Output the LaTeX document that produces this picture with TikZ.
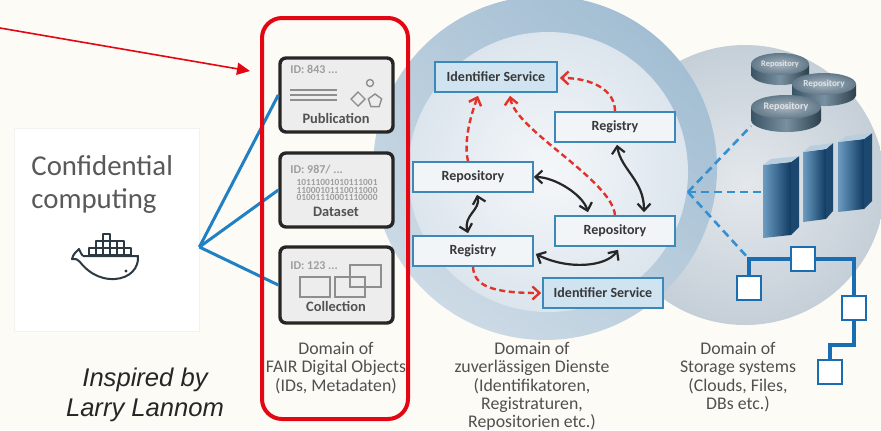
\documentclass[tikz,border=0pt]{standalone}
\usepackage{fontspec}
\setmainfont{Carlito}
\newfontfamily\arialfont{Liberation Sans}
\usetikzlibrary{arrows.meta,positioning,calc,shapes.geometric}

\definecolor{bgcream}{HTML}{FDFBF6}
\definecolor{fdored}{HTML}{E30613}
\definecolor{linkblue}{HTML}{1F80C4}
\definecolor{svcblue}{HTML}{3C88B8}
\definecolor{idfill}{HTML}{CFE3F1}
\definecolor{svcfill}{HTML}{F1F5F8}
\definecolor{arrred}{HTML}{E2332B}
\definecolor{txtgray}{HTML}{505050}
\definecolor{icongray}{HTML}{8E8E8E}
\definecolor{treeblue}{HTML}{1A6DB0}
\definecolor{dashblue}{HTML}{3590D2}
\definecolor{whaleink}{HTML}{2B3A42}
\definecolor{midtop}{HTML}{A3BED3}
\definecolor{midbot}{HTML}{CCDAE5}
\definecolor{innerc}{HTML}{DCE5ED}
\definecolor{stlight}{HTML}{E4E8EC}
\definecolor{stdark}{HTML}{C5CFD8}
\definecolor{diskside}{HTML}{3B5465}
\definecolor{diskhi}{HTML}{7890A0}
\definecolor{disktop}{HTML}{62798A}
\definecolor{towlight}{HTML}{6C9CC2}
\definecolor{towdark}{HTML}{0F3A62}
\definecolor{towside}{HTML}{1C4870}
\definecolor{towtop}{HTML}{B8CEDF}

\tikzset{
  fdobox/.style={draw=black!85,line width=1.7pt,rounded corners=3pt,fill=black!7,inner sep=0pt},
  svc/.style={draw=svcblue,line width=0.8pt,fill=svcfill,minimum width=60pt,minimum height=15pt,
    inner sep=0pt,font=\fontsize{7}{8}\selectfont\bfseries,text=black!78},
  idsvc/.style={svc,fill=idfill},
  dbl/.style={{Straight Barb[length=3.5pt,width=6.5pt]}-{Straight Barb[length=3.5pt,width=6.5pt]},
    line width=1.1pt,draw=black!85},
  rdash/.style={-{Straight Barb[length=3.5pt,width=6.5pt]},line width=1.2pt,draw=arrred,
    dash pattern=on 3pt off 1.8pt},
  fdolink/.style={draw=linkblue,line width=1.5pt},
  stlink/.style={draw=dashblue,line width=1.3pt,dash pattern=on 4pt off 2.5pt},
  domlbl/.style={align=center,text=txtgray,inner sep=0pt,font=\fontsize{8.9}{9.15}\selectfont},
  idtxt/.style={anchor=west,text=black!38,inner sep=0pt,font=\fontsize{6}{7}\selectfont\bfseries},
  bits/.style={align=center,text=black!38,inner sep=0pt,font=\fontsize{4.7}{3.55}\selectfont\bfseries},
  objlbl/.style={text=black!68,inner sep=0pt,font=\fontsize{7.2}{8}\selectfont\bfseries},
  icon/.style={draw=icongray,line width=0.7pt},
  treeln/.style={draw=treeblue,line width=2.2pt},
  treenode/.style={draw=treeblue,line width=1.4pt,fill=white,minimum size=12pt,inner sep=0pt},
}

% x, y, x radius, y radius, depth, label size, name
\newcommand{\repodisk}[7]{%
  \shade[left color=diskside,right color=diskside!75!black,middle color=diskhi]
    (#1-#3,#2) rectangle (#1+#3,#2+#5);
  \shade[left color=diskside,right color=diskside!75!black,middle color=diskhi]
    (#1,#2+#5) ellipse [x radius=#3,y radius=#4];
  \shade[inner color=disktop!55!white,outer color=disktop] (#1,#2) ellipse [x radius=#3,y radius=#4];
  \node[text=white!80!disktop,inner sep=0pt,font=\fontsize{#6}{#6}\selectfont\bfseries] (#7) at (#1,#2) {Repository};
}
% x, y, front width, height, side width
\newcommand{\rack}[5]{%
  \shade[left color=towlight,right color=towdark]
    (#1,#2) -- (#1+#3,#2-3) -- (#1+#3,#2+#4-3) -- (#1,#2+#4) -- cycle;
  \fill[towside] (#1+#3,#2-3) -- (#1+#3+#5,#2-9) -- (#1+#3+#5,#2+#4-11) -- (#1+#3,#2+#4-3) -- cycle;
  \fill[towtop] (#1,#2) -- (#1+#3,#2-3) -- (#1+#3+#5,#2-9) -- (#1+#5,#2-6) -- cycle;
}

\begin{document}
\begin{tikzpicture}[x=0.5pt,y=-0.5pt]
  \useasboundingbox[fill=bgcream] (0,0) rectangle (881,430);

  % the three domains
  \shade[inner color=stlight,outer color=stdark] (745,185) circle [radius=140];
  \shade[top color=midtop,bottom color=midbot,shading angle=-40] (545,168) circle [radius=172];
  \shade[inner color=white!70!innerc,outer color=innerc] (548,172) circle [radius=140];

  % confidential computing
  \node[draw=black!5,fill=white,minimum width=92.5pt,minimum height=101.5pt,inner sep=0pt] (cc) at (106.5,229.5) {};
  \node[anchor=base west,inner sep=0pt,text=black!65,font=\fontsize{14.4}{16}\selectfont] (conf) at (31,175) {Confidential};
  \node[anchor=base west,inner sep=0pt,text=black!65,font=\fontsize{14.4}{16}\selectfont] (comp) at (31,208) {computing};
  \begin{scope}[whaleink,line width=1pt,line join=round]
    \draw (103,234) rectangle ++(7,7);
    \foreach \c in {1,...,4} \draw (89+7*\c,241) rectangle ++(7,7);
    \foreach \c in {0,...,5} \draw (89+7*\c,248) rectangle ++(7,7);
    \draw (83,256) -- (138,256) .. controls (139,268) and (130,278) .. (115,279)
      .. controls (98,280) and (86,270) .. (80,262) .. controls (77,259) and (74,258) .. (72,259)
      .. controls (73,254) and (77,251) .. (79,249) .. controls (80,252) and (82,255) .. (83,256);
    \fill (126,271) circle [radius=1.6];
  \end{scope}

  \node[inner sep=0pt,text=black!85,font=\arialfont\itshape\fontsize{12.8}{14}\selectfont] (insp) at (145,380) {Inspired by};
  \node[inner sep=0pt,text=black!85,font=\arialfont\itshape\fontsize{12.8}{14}\selectfont] (larry) at (145,410) {Larry Lannom};

  % FAIR digital objects
  \coordinate (hub) at ([yshift=-8.75pt]cc.east);
  \node[fdobox,minimum width=56.5pt,minimum height=37pt] (pub) at (336.5,95) {};
  \node[fdobox,minimum width=56.5pt,minimum height=37pt] (dat) at (336.5,190) {};
  \node[fdobox,minimum width=56.5pt,minimum height=38pt] (col) at (336.5,285) {};
  \draw[fdolink] (hub) -- (pub.west);
  \draw[fdolink] (hub) -- (dat.west);
  \draw[fdolink] (hub) -- (col.west);

  \node[idtxt] (pubid) at (290,69) {ID: 843 ...};
  \foreach \yy in {90,95,100} \draw[icon] (290,\yy) -- (337,\yy);
  \draw[icon] (370,83) circle [radius=3.5];
  \draw[icon] (358,92) -- (365,99) -- (358,106) -- (351,99) -- cycle;
  \node[icon,regular polygon,regular polygon sides=5,minimum size=7pt,inner sep=0pt] (pent) at (375,101) {};
  \node[objlbl] (publbl) at (336,118) {Publication};

  \node[idtxt] (datid) at (290,170) {ID: 987/ ...};
  \node[bits] (bitrows) at (337,190) {10111001010111001\\11000101110011000\\01001110001110000};
  \node[objlbl] (datlbl) at (336,212) {Dataset};

  \node[idtxt] (colid) at (290,266) {ID: 123 ...};
  \draw[icon] (300,277) rectangle (330,297);
  \draw[icon] (335,277) rectangle (365,297);
  \draw[icon] (350,265) rectangle (381,287);
  \node[objlbl] (collbl) at (336,306) {Collection};

  \draw[fdored,line width=2pt,rounded corners=10pt] (262,18) rectangle (408,419);
  \coordinate (tail) at (0,28);
  \coordinate (tip) at (250,71);
  \draw[fdored,line width=0.8pt,-{Triangle[length=6.5pt,width=6pt]}] (tail) -- (tip);

  % trusted services
  \node[idsvc,minimum width=61pt] (idT) at (496,77) {Identifier Service};
  \node[svc] (regR) at (615,127) {Registry};
  \node[svc] (repL) at (473,177) {Repository};
  \node[svc] (repR) at (615,231) {Repository};
  \node[svc] (regL) at (473,251) {Registry};
  \node[idsvc] (idB) at (603,293) {Identifier Service};

  \draw[dbl] (repL.east) .. controls (555,177) and (583,195) .. ($(repR.north)+(-27,-3)$);
  \draw[dbl] ($(regR.south)+(2,2)$) .. controls (621,170) and (644,180) .. ($(repR.north)+(29,-3)$);
  \draw[dbl] ($(repL.south)+(4,2)$) .. controls (481,210) and (463,215) .. ($(regL.north)+(-5,-2)$);
  \draw[dbl] ($(regL.east)+(2,3)$) .. controls (568,270) and (606,267) .. ($(repR.south)+(3,3)$);

  \draw[rdash] ($(repL.north)+(-5,0)$) .. controls (463,140) and (472,112) .. ($(idT.south)+(-18,3)$);
  \draw[rdash] (repR.north) .. controls (612,180) and (515,130) .. ($(idT.south)+(14,3)$);
  \draw[rdash] (regR.north) .. controls (615,90) and (592,78) .. ($(idT.east)+(2,1)$);
  \draw[rdash] (regL.south) .. controls (474,286) and (492,293) .. ($(idB.west)+(-1,0)$);

  % storage systems
  \coordinate (sthub) at (688,192);
  \coordinate (diskend) at (751,126);
  \coordinate (rackend) at (764,192);
  \coordinate (tc1) at (803,259);
  \coordinate (tc2) at (749,288);
  \coordinate (tc3) at (854,308);
  \coordinate (tstep) at (830,345);
  \coordinate (tc4) at (830,372);
  \coordinate (tj) at (tc2 |- tc1);
  \draw[stlink] (sthub) -- (diskend);
  \draw[stlink] (sthub) -- (rackend);
  \draw[stlink] (sthub) -- (tj);

  \repodisk{780}{64}{29}{11}{10}{4.2}{disk1}
  \repodisk{824}{84}{32}{11}{11}{4.6}{disk2}
  \repodisk{786}{107}{35}{12}{13}{5}{disk3}

  \rack{838}{142}{26}{70}{8}
  \rack{803}{152}{23}{70}{7}
  \rack{763}{165}{28}{73}{8}

  \draw[treeln] (tc2) -- (tj) -- (tc3 |- tc1) -- (tc3) -- (tc3 |- tstep) -- (tstep) -- (tc4);
  \node[treenode] (tn1) at (tc1) {};
  \node[treenode] (tn2) at (tc2) {};
  \node[treenode] (tn3) at (tc3) {};
  \node[treenode] (tn4) at (tc4) {};

  % domain captions
  \node[domlbl,anchor=north] (fdolbl) at (336,342) {Domain of\\FAIR Digital Objects\\(IDs, Metadaten)};
  \node[domlbl,anchor=north] (svclbl) at (532,342) {Domain of\\zuverlässigen Dienste\\(Identifikatoren,\\Registraturen,\\Repositorien etc.)};
  \node[domlbl,anchor=north] (stlbl) at (738,342) {Domain of\\Storage systems\\(Clouds, Files,\\DBs etc.)};
\end{tikzpicture}
\end{document}
